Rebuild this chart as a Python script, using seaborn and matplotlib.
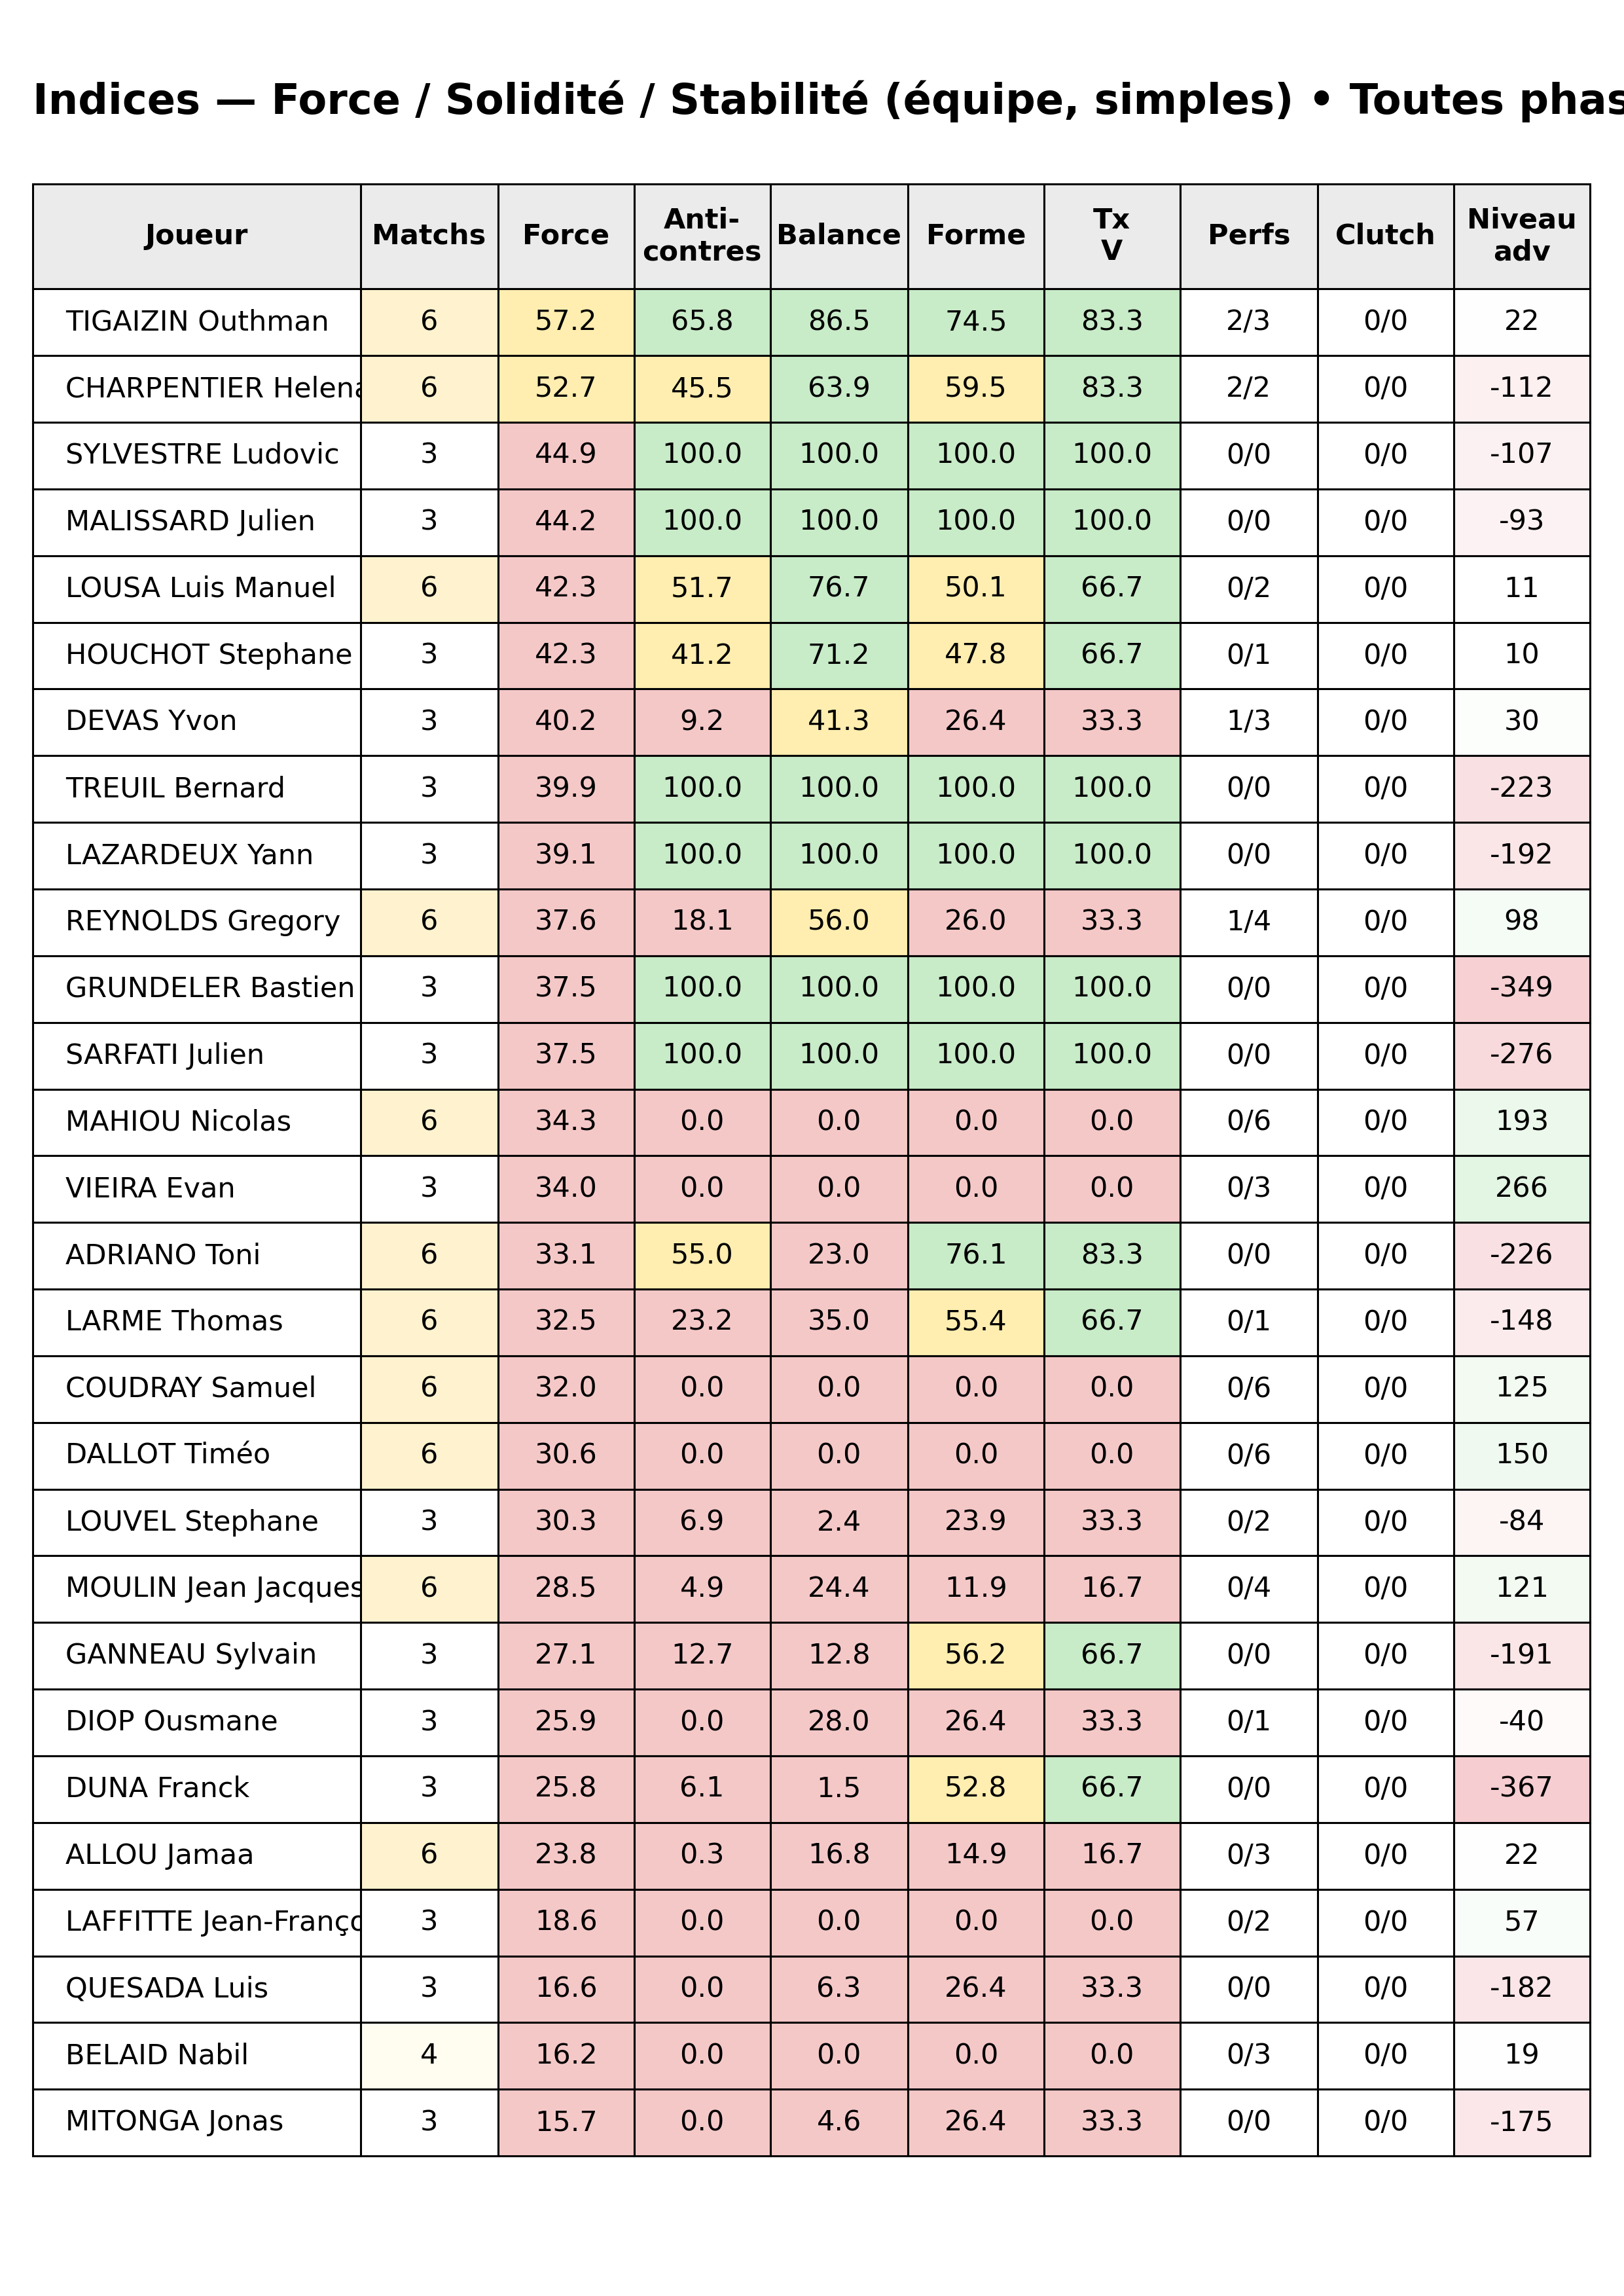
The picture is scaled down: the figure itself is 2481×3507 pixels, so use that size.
import matplotlib
matplotlib.use("Agg")
import matplotlib.pyplot as plt
import seaborn as sns
import numpy as np

sns.set_theme(style="white")
plt.rcParams['font.family'] = ['DejaVu Sans']
plt.rcParams['text.color'] = 'black'

players = ["TIGAIZIN Outhman","CHARPENTIER Helena","SYLVESTRE Ludovic","MALISSARD Julien","LOUSA Luis Manuel",
 "HOUCHOT Stephane","DEVAS Yvon","TREUIL Bernard","LAZARDEUX Yann","REYNOLDS Gregory","GRUNDELER Bastien",
 "SARFATI Julien","MAHIOU Nicolas","VIEIRA Evan","ADRIANO Toni","LARME Thomas","COUDRAY Samuel","DALLOT Timéo",
 "LOUVEL Stephane","MOULIN Jean Jacques","GANNEAU Sylvain","DIOP Ousmane","DUNA Franck","ALLOU Jamaa",
 "LAFFITTE Jean-François","QUESADA Luis","BELAID Nabil","MITONGA Jonas"]
matchs = [6,6,3,3,6,3,3,3,3,6,3,3,6,3,6,6,6,6,3,6,3,3,3,6,3,3,4,3]
force = [57.2,52.7,44.9,44.2,42.3,42.3,40.2,39.9,39.1,37.6,37.5,37.5,34.3,34.0,33.1,32.5,32.0,30.6,30.3,28.5,27.1,25.9,25.8,23.8,18.6,16.6,16.2,15.7]
anti = [65.8,45.5,100,100,51.7,41.2,9.2,100,100,18.1,100,100,0,0,55.0,23.2,0,0,6.9,4.9,12.7,0,6.1,0.3,0,0,0,0]
balance = [86.5,63.9,100,100,76.7,71.2,41.3,100,100,56.0,100,100,0,0,23.0,35.0,0,0,2.4,24.4,12.8,28.0,1.5,16.8,0,6.3,0,4.6]
forme = [74.5,59.5,100,100,50.1,47.8,26.4,100,100,26.0,100,100,0,0,76.1,55.4,0,0,23.9,11.9,56.2,26.4,52.8,14.9,0,26.4,0,26.4]
txv = [83.3,83.3,100,100,66.7,66.7,33.3,100,100,33.3,100,100,0,0,83.3,66.7,0,0,33.3,16.7,66.7,33.3,66.7,16.7,0,33.3,0,33.3]
perfs = ["2/3","2/2","0/0","0/0","0/2","0/1","1/3","0/0","0/0","1/4","0/0","0/0","0/6","0/3","0/0","0/1","0/6","0/6","0/2","0/4","0/0","0/1","0/0","0/3","0/2","0/0","0/3","0/0"]
clutch = ["0/0"]*28
niveau = [22,-112,-107,-93,11,10,30,-223,-192,98,-349,-276,193,266,-226,-148,125,150,-84,121,-191,-40,-367,22,57,-182,19,-175]
headers = ["Joueur","Matchs","Force","Anti-\ncontres","Balance","Forme","Tx\nV","Perfs","Clutch","Niveau\nadv"]

GREEN="#c8ebc8"; YELLOW="#ffeeb0"; RED="#f5c8c8"; WHITE="#ffffff"
def tri(v, g, y):
    return GREEN if v >= g else (YELLOW if v >= y else RED)
def mix(c, a):
    c = np.array(matplotlib.colors.to_rgb(c)); return tuple(1 - a*(1-c))

cells, colors = [], []
for i in range(len(players)):
    cells.append([players[i], str(matchs[i]), f"{force[i]:.1f}", f"{anti[i]:.1f}", f"{balance[i]:.1f}",
                  f"{forme[i]:.1f}", f"{txv[i]:.1f}", perfs[i], clutch[i], str(niveau[i])])
    m = matchs[i]
    mc = "#fff3cf" if m >= 6 else ("#fffdf0" if m >= 4 else WHITE)
    nv = niveau[i]
    a = min(abs(nv)/367, 1)*0.7
    nc = mix("#f2b8bd", a) if nv < 0 else mix("#c8ebc8", a)
    colors.append([WHITE, mc, tri(force[i],65,50), tri(anti[i],60,40), tri(balance[i],60,40),
                   tri(forme[i],60,40), tri(txv[i],60,40), WHITE, WHITE, nc])

fig = plt.figure(figsize=(24.81, 35.07), dpi=100)
ax = fig.add_axes([0.02, 0.061, 0.959, 0.859])
ax.axis("off")
fig.text(0.02, 0.956, "Indices — Force / Solidité / Stabilité (équipe, simples) • Toutes phases",
         fontsize=46, fontweight="bold", va="center", ha="left", color="black")

widths = np.array([224,94,93,93,94,93,93,94,93,93], float); widths /= widths.sum()
tab = ax.table(cellText=cells, cellColours=colors, colLabels=headers, colWidths=widths,
               cellLoc="center", bbox=[0, 0, 1, 1])
tab.auto_set_font_size(False)
tab.set_fontsize(31)
nrows = len(players)
hh = 72/(72+45.6*nrows); rh = (1-hh)/nrows
for (r, c), cell in tab.get_celld().items():
    cell.set_edgecolor("black"); cell.set_linewidth(2.2)
    cell.set_fontsize(31)
    t = cell.get_text(); t.set_color("black")
    if r == 0:
        cell.set_height(hh); cell.set_facecolor("#ebebeb")
        t.set_fontweight("bold")
    else:
        cell.set_height(rh)
    if c == 0 and r > 0:
        cell._loc = "left"; t.set_ha("left"); cell.PAD = 0.1
    t.set_clip_path(cell)

fig.savefig("out.png", dpi=100, facecolor="white")
